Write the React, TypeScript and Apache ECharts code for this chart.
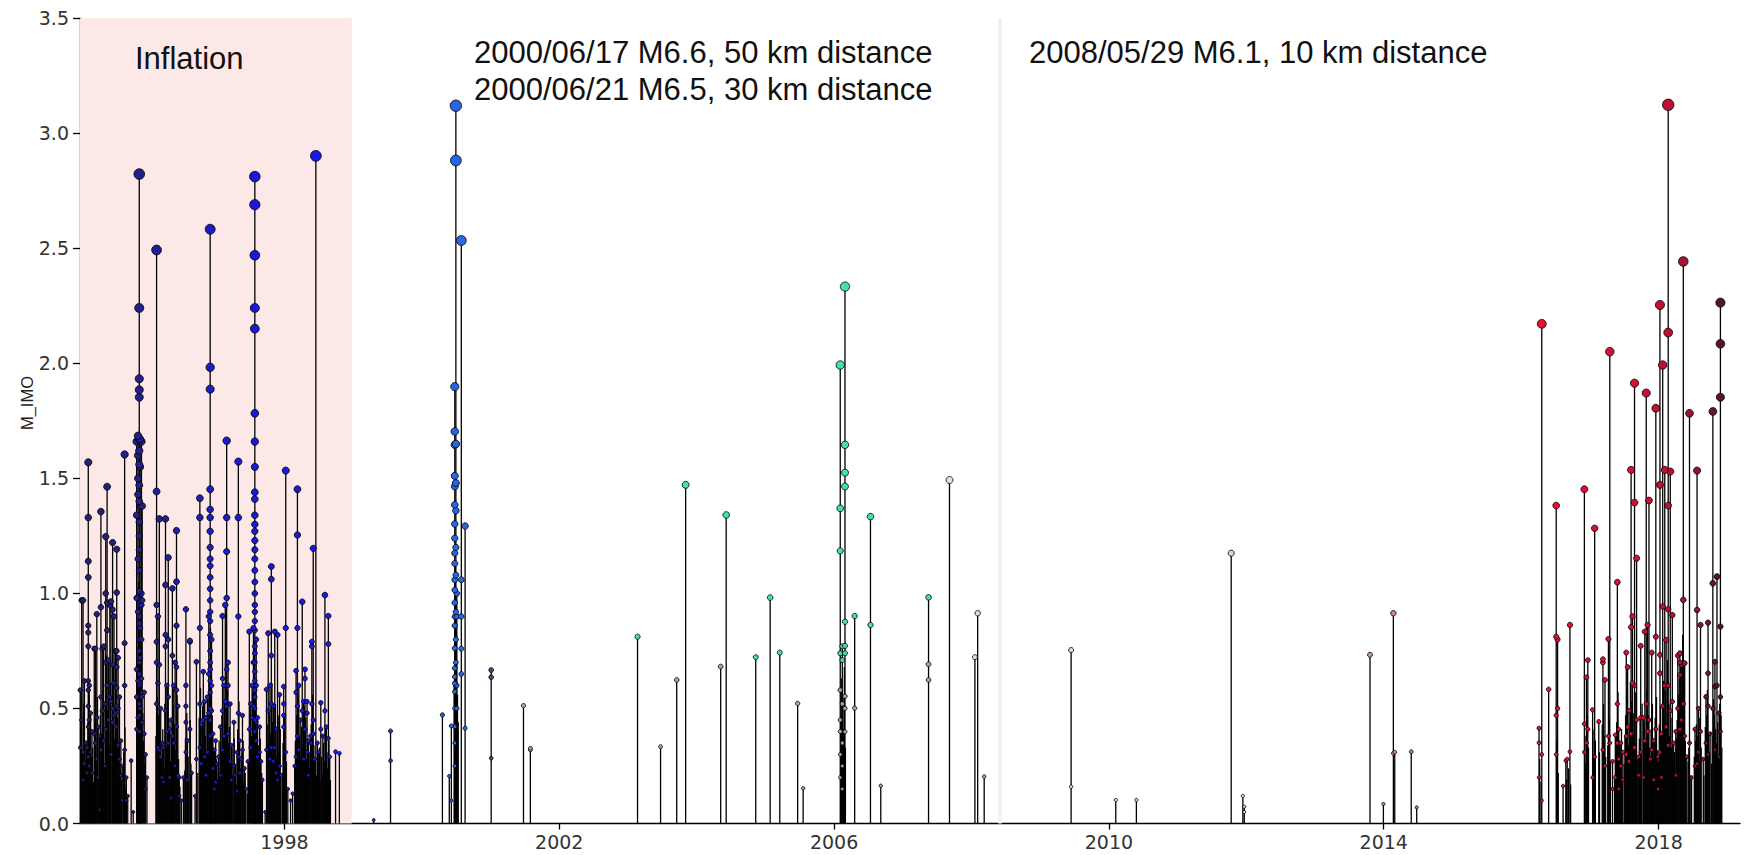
import React, { useEffect, useRef } from 'react';
import * as echarts from 'echarts';

// ---------- axis ranges / ticks ----------
const X_MIN = 1995.0255;
const X_MAX = 2019.185;
const Y_MIN = 0;
const Y_MAX = 3.5;
const Y_STEP = 0.5;
const yearTicks = [1998, 2002, 2006, 2010, 2014, 2018];
const yAxisTitle = 'M_IMO';

// shaded inflation period and marker line of 2008/05/29
const inflationStart = 1995.0255;
const inflationEnd = 1998.98;
const quake2008 = 2008.41;

// ---------- data: [decimal year, magnitudes at that time] ----------
type Cluster = [number, number[]];

const events1995: Cluster[] = [
  [1995.03, [0.58, 0.33]], [1995.05, [0.97, 0.45]], [1995.07, [0.97, 0.31, 0.19]], [1995.09, [0.62, 0.26]],
  [1995.11, [0.35]], [1995.13, [0.33, 0.22]],
  [1995.146, [1.57, 1.33, 1.14, 1.07, 0.86, 0.83, 0.77, 0.62, 0.58, 0.51, 0.42, 0.29]],
  [1995.16, [0.6, 0.45, 0.25]], [1995.18, [0.48, 0.31]], [1995.2, [0.4, 0.22]], [1995.233, [0.76, 0.39]],
  [1995.25, [0.76, 0.35]], [1995.27, [0.91, 0.46, 0.28]], [1995.29, [0.42, 0.2]], [1995.31, [0.38, 0.06]],
  [1995.33, [1.356, 0.94, 0.55, 0.32]], [1995.35, [0.76, 0.49]], [1995.37, [0.77, 0.36]], [1995.39, [0.52, 0.25]],
  [1995.4, [1.247, 1.0, 0.7, 0.41]], [1995.42, [1.464, 0.96, 0.84, 0.6]], [1995.44, [0.71, 0.45]],
  [1995.46, [0.95, 0.55]], [1995.476, [0.965, 0.53, 0.3]], [1995.5, [1.221, 0.93, 0.69, 0.5, 0.44]],
  [1995.52, [0.9, 0.61, 0.47]], [1995.54, [0.75, 0.48]], [1995.56, [1.192, 1.004, 0.75, 0.68, 0.59, 0.51, 0.42]],
  [1995.58, [0.72, 0.5, 0.34]], [1995.6, [0.55, 0.28]], [1995.62, [0.36, 0.21]], [1995.64, [0.25, 0.1]],
  [1995.675, [1.604, 0.784, 0.6, 0.32]], [1995.7, [0.2, 0.1]], [1995.72, [0.12]], [1995.77, [0.273]],
  [1995.8, [0.05]], [1995.85, [1.66, 1.34, 0.98, 0.67, 0.55, 0.41]],
  [1995.87, [1.685, 1.6, 1.5, 1.43, 1.15, 0.92, 0.62, 0.46]],
  [1995.888, [2.823, 2.241, 1.933, 1.885, 1.853, 1.67, 1.62, 1.56, 1.47, 1.4, 1.31, 1.25, 1.19, 1.1, 1.01, 0.95, 0.9, 0.87, 0.8, 0.75, 0.7, 0.65, 0.6, 0.52, 0.47, 0.4]],
  [1995.9, [1.67, 1.55, 1.38, 0.97, 0.85, 0.72, 0.61, 0.5]], [1995.92, [1.66, 1.0, 0.95, 0.8, 0.63, 0.55]],
  [1995.93, [1.38, 0.97, 0.57, 0.44]], [1995.96, [0.57, 0.39]], [1995.98, [0.3, 0.15]], [1996.0, [0.2]],
  [1996.14, [2.493, 1.443, 0.95, 0.79, 0.7, 0.52]], [1996.16, [0.9, 0.61, 0.33]], [1996.18, [1.324, 0.69, 0.32]],
  [1996.2, [0.5, 0.29]], [1996.22, [0.35, 0.2]], [1996.24, [0.33, 0.18]],
  [1996.27, [1.324, 1.037, 0.82, 0.77, 0.49]], [1996.29, [0.6, 0.4]], [1996.31, [1.156, 0.8, 0.55, 0.35]],
  [1996.33, [0.41, 0.2]], [1996.35, [0.45, 0.11]], [1996.37, [1.022, 0.73, 0.38]], [1996.39, [0.6, 0.35]],
  [1996.41, [0.7, 0.25]], [1996.43, [1.273, 1.051, 0.86, 0.68, 0.58, 0.42]], [1996.45, [0.51, 0.21]],
  [1996.47, [0.2, 0.12]], [1996.5, [0.1]], [1996.53, [0.2]], [1996.567, [0.931, 0.6, 0.51, 0.44, 0.31]],
  [1996.59, [0.36, 0.19]], [1996.625, [0.795, 0.79, 0.41]], [1996.65, [0.22]], [1996.7, [0.12]],
  [1996.72, [0.703, 0.28]], [1996.77, [1.414, 1.33, 0.85, 0.52, 0.33]], [1996.79, [0.43, 0.26]],
  [1996.82, [0.66, 0.45]], [1996.84, [0.53, 0.29]], [1996.86, [0.46, 0.21]], [1996.88, [0.55, 0.31]],
  [1996.9, [0.9, 0.65, 0.48]],
  [1996.92, [2.583, 1.983, 1.888, 1.453, 1.365, 1.33, 1.27, 1.2, 1.15, 1.12, 1.07, 1.02, 0.97, 0.92, 0.88, 0.82, 0.75, 0.7, 0.67, 0.62, 0.57, 0.5, 0.45, 0.38]],
  [1996.94, [0.8, 0.6, 0.49]], [1996.96, [0.39, 0.24]], [1996.98, [0.32, 0.15]], [1997.0, [0.36, 0.18]],
  [1997.02, [0.26]], [1997.04, [0.29]], [1997.07, [0.42, 0.21]], [1997.1, [0.902, 0.63, 0.49, 0.32]],
  [1997.12, [0.6, 0.38]], [1997.14, [0.95, 0.53]], [1997.16, [1.664, 1.33, 1.182, 0.98, 0.67, 0.51]],
  [1997.18, [0.7, 0.6, 0.39]], [1997.21, [0.52, 0.27]], [1997.23, [0.34, 0.19]], [1997.265, [0.44, 0.25]],
  [1997.28, [0.21]], [1997.31, [0.31, 0.14]], [1997.33, [1.573, 1.33, 0.9, 0.48, 0.29]], [1997.35, [0.36, 0.22]],
  [1997.37, [0.28]], [1997.39, [0.47, 0.32]], [1997.42, [0.24]], [1997.44, [0.15]], [1997.47, [0.27]],
  [1997.49, [0.834, 0.41]], [1997.51, [0.52, 0.33]], [1997.53, [0.6, 0.46]], [1997.55, [0.85, 0.7, 0.51]],
  [1997.57, [2.812, 2.69, 2.47, 2.241, 2.151, 1.783, 1.66, 1.55, 1.44, 1.41, 1.34, 1.3, 1.27, 1.23, 1.19, 1.15, 1.1, 1.05, 1.0, 0.95, 0.92, 0.88, 0.84, 0.77, 0.74, 0.7, 0.66, 0.62, 0.58, 0.55, 0.5, 0.45, 0.4]],
  [1997.59, [0.8, 0.6, 0.44, 0.36]], [1997.61, [0.46, 0.29]], [1997.64, [0.42, 0.31]], [1997.66, [0.27]],
  [1997.68, [0.19]], [1997.72, [0.05]], [1997.74, [0.583, 0.32]], [1997.765, [0.827, 0.49]], [1997.79, [0.6, 0.28]],
  [1997.81, [1.117, 1.062, 0.73, 0.52, 0.33]], [1997.84, [0.51, 0.27]], [1997.86, [0.834, 0.33]],
  [1997.88, [0.41, 0.22]], [1997.9, [0.82, 0.19]], [1997.93, [0.56, 0.25]], [1997.95, [0.21]],
  [1997.99, [0.595, 0.52, 0.47, 0.42]], [1998.02, [1.534, 0.85, 0.31]], [1998.05, [0.15]], [1998.09, [0.1]],
  [1998.12, [0.13]], [1998.15, [0.25]], [1998.17, [0.664, 0.57, 0.29]], [1998.19, [1.453, 1.254, 0.85, 0.51, 0.38]],
  [1998.21, [0.6, 0.32]], [1998.23, [0.45]], [1998.26, [0.964, 0.49]], [1998.28, [0.53, 0.28]],
  [1998.3, [0.67, 0.63, 0.41]], [1998.33, [0.53, 0.48, 0.31]], [1998.35, [0.36, 0.21]], [1998.38, [0.38, 0.35]],
  [1998.4, [0.79, 0.77, 0.52]], [1998.42, [1.196, 0.45, 0.39]], [1998.44, [0.28]], [1998.458, [2.902]],
  [1998.48, [0.35]], [1998.5, [0.31]], [1998.53, [0.525, 0.41]], [1998.56, [0.38]], [1998.59, [0.993, 0.49]],
  [1998.61, [0.42]], [1998.64, [0.902, 0.78, 0.37]], [1998.66, [0.29]], [1998.745, [0.312]], [1998.8, [0.305]],
];

// small events (stems only) that form the dense black base of the swarms
const minorYears1995 = [
  1995.04, 1995.06, 1995.08, 1995.1, 1995.12, 1995.14, 1995.15, 1995.17, 1995.19, 1995.21, 1995.22, 1995.24,
  1995.26, 1995.28, 1995.3, 1995.32, 1995.34, 1995.36, 1995.38, 1995.41, 1995.43, 1995.45, 1995.47, 1995.49,
  1995.51, 1995.53, 1995.55, 1995.57, 1995.59, 1995.61, 1995.63, 1995.66, 1995.68, 1995.69, 1995.86, 1995.875,
  1995.88, 1995.895, 1995.91, 1995.94, 1995.95, 1995.97, 1996.13, 1996.15, 1996.17, 1996.19, 1996.21, 1996.23,
  1996.25, 1996.26, 1996.28, 1996.3, 1996.32, 1996.34, 1996.36, 1996.38, 1996.4, 1996.42, 1996.44, 1996.46,
  1996.48, 1996.55, 1996.56, 1996.58, 1996.6, 1996.61, 1996.63, 1996.64, 1996.74, 1996.76, 1996.78, 1996.8,
  1996.81, 1996.83, 1996.85, 1996.87, 1996.89, 1996.91, 1996.925, 1996.93, 1996.95, 1996.97, 1996.99, 1997.01,
  1997.03, 1997.05, 1997.06, 1997.08, 1997.09, 1997.11, 1997.13, 1997.15, 1997.17, 1997.19, 1997.2, 1997.22,
  1997.24, 1997.25, 1997.27, 1997.29, 1997.3, 1997.32, 1997.34, 1997.36, 1997.38, 1997.4, 1997.41, 1997.43,
  1997.46, 1997.48, 1997.5, 1997.52, 1997.54, 1997.56, 1997.565, 1997.575, 1997.58, 1997.6, 1997.62, 1997.63,
  1997.65, 1997.67, 1997.75, 1997.76, 1997.78, 1997.8, 1997.82, 1997.83, 1997.85, 1997.87, 1997.89, 1997.91,
  1997.92, 1997.94, 1997.97, 1997.98, 1998.0, 1998.01, 1998.03, 1998.16, 1998.18, 1998.2, 1998.22, 1998.24,
  1998.25, 1998.27, 1998.29, 1998.31, 1998.32, 1998.34, 1998.36, 1998.37, 1998.39, 1998.41, 1998.43, 1998.45,
  1998.47, 1998.49, 1998.51, 1998.52, 1998.54, 1998.55, 1998.57, 1998.58, 1998.6, 1998.62, 1998.63, 1998.65,
  1998.67,
];
const minorMags1995 = [
  0.42, 0.31, 0.52, 0.27, 0.36, 0.44, 0.62, 0.38, 0.29, 0.33, 0.18, 0.46,
  0.27, 0.55, 0.21, 0.47, 0.39, 0.58, 0.26, 0.73, 0.49, 0.34, 0.61, 0.44,
  0.68, 0.37, 0.52, 0.46, 0.33, 0.24, 0.19, 0.31, 0.42, 0.15, 0.71, 0.88,
  1.05, 0.93, 0.77, 0.48, 0.36, 0.26, 0.38, 0.55, 0.47, 0.36, 0.29, 0.41,
  0.24, 0.52, 0.33, 0.61, 0.45, 0.27, 0.38, 0.51, 0.43, 0.32, 0.56, 0.28,
  0.16, 0.23, 0.37, 0.48, 0.29, 0.18, 0.45, 0.26, 0.22, 0.46, 0.59, 0.34,
  0.51, 0.27, 0.38, 0.31, 0.44, 0.62, 0.85, 0.72, 0.47, 0.33, 0.24, 0.28,
  0.19, 0.36, 0.22, 0.31, 0.47, 0.38, 0.52, 0.44, 0.58, 0.35, 0.42, 0.27,
  0.33, 0.21, 0.37, 0.26, 0.17, 0.41, 0.53, 0.24, 0.31, 0.36, 0.18, 0.22,
  0.13, 0.27, 0.46, 0.38, 0.57, 0.68, 0.79, 0.63, 0.52, 0.41, 0.34, 0.26,
  0.37, 0.22, 0.43, 0.35, 0.48, 0.39, 0.61, 0.44, 0.36, 0.52, 0.29, 0.47,
  0.33, 0.41, 0.22, 0.35, 0.48, 0.31, 0.27, 0.36, 0.47, 0.55, 0.38, 0.29,
  0.42, 0.33, 0.51, 0.46, 0.28, 0.37, 0.24, 0.31, 0.43, 0.56, 0.34, 0.27,
  0.21, 0.26, 0.33, 0.18, 0.29, 0.22, 0.35, 0.27, 0.41, 0.31, 0.24, 0.36,
  0.19,
];

const events2000: Cluster[] = [
  [1999.3, [0.015]], [1999.545, [0.402, 0.273]], [2000.3, [0.472]], [2000.4, [0.206]], [2000.43, [0.424, 0.1]],
  [2000.48, [1.899, 1.704, 1.646, 1.511, 1.465, 1.385, 1.302, 1.24, 1.175, 1.13, 1.059, 1.015, 0.96, 0.899, 0.86, 0.762, 0.675, 0.638, 0.609, 0.573, 0.5, 0.421, 0.35, 0.25]],
  [2000.496, [3.12, 2.882, 1.65, 1.48, 1.36, 1.2, 1.08, 0.92, 0.8, 0.7, 0.6]],
  [2000.51, [1.0, 0.9, 0.6, 0.5]], [2000.575, [2.534, 1.06, 0.9, 0.76, 0.65]], [2000.63, [1.293, 0.414]],
  [2001.01, [0.667, 0.636, 0.284]], [2001.48, [0.512]], [2001.58, [0.327, 0.32]],
];
const minorYears2000 = [2000.47, 2000.485, 2000.49, 2000.5, 2000.505, 2000.52, 2000.53];
const minorMags2000 = [0.62, 1.12, 0.95, 0.83, 0.71, 0.56, 0.44];

const events2003: Cluster[] = [
  [2003.14, [0.812]], [2003.475, [0.334]], [2003.71, [0.624]], [2003.84, [1.472]], [2004.35, [0.682]],
  [2004.43, [1.341]], [2004.86, [0.723]], [2005.07, [0.982]], [2005.21, [0.743]], [2005.47, [0.522]],
  [2005.55, [0.153]],
  [2006.09, [1.993, 1.37, 1.185, 0.74, 0.58, 0.45, 0.4, 0.3, 0.2]],
  [2006.12, [0.77, 0.71, 0.52, 0.35, 0.25, 0.15]],
  [2006.159, [2.334, 1.646, 1.525, 1.465, 0.877, 0.772, 0.74, 0.553, 0.5, 0.399]],
  [2006.3, [0.902, 0.501]], [2006.53, [1.334, 0.863]], [2006.68, [0.164]],
  [2007.375, [0.983, 0.692, 0.624]], [2007.68, [1.493]], [2008.05, [0.723]], [2008.09, [0.914]],
  [2008.185, [0.204]],
];
const minorYears2003 = [2006.1, 2006.105, 2006.11, 2006.13, 2006.14, 2006.15, 2006.165];
const minorMags2003 = [0.46, 0.63, 0.38, 0.55, 0.41, 0.68, 0.33];

const events2009: Cluster[] = [
  [2009.45, [0.754, 0.16]], [2010.1, [0.102]], [2010.4, [0.102]], [2011.78, [1.175]], [2011.95, [0.12]],
  [2011.97, [0.073, 0.05]], [2013.8, [0.733]], [2013.995, [0.085]], [2014.14, [0.914, 0.305]],
  [2014.16, [0.31]], [2014.4, [0.312]], [2014.48, [0.07]],
];

const events2016: Cluster[] = [
  [2016.26, [0.414, 0.351, 0.2]], [2016.3, [2.172, 0.3, 0.1]], [2016.4, [0.583]],
  [2016.51, [1.382, 0.812, 0.47, 0.3]], [2016.53, [0.8, 0.5]], [2016.61, [0.163]], [2016.65, [0.273]],
  [2016.67, [0.28]], [2016.71, [0.863, 0.312]], [2016.92, [1.453, 0.433, 0.31]], [2016.95, [0.636, 0.35]],
  [2016.97, [0.71, 0.41]], [2017.04, [0.494, 0.2]], [2017.07, [1.283, 0.29]], [2017.13, [0.443]],
  [2017.19, [0.714, 0.7, 0.32]], [2017.22, [0.624, 0.25]], [2017.27, [0.802, 0.38]], [2017.29, [2.051, 0.35]],
  [2017.33, [0.27, 0.15]], [2017.37, [0.385, 0.2]], [2017.4, [1.049, 0.52, 0.35]], [2017.42, [0.41, 0.28, 0.15]],
  [2017.45, [0.35, 0.25]], [2017.48, [0.31, 0.19]], [2017.53, [0.743, 0.38, 0.3]], [2017.55, [0.68, 0.42]],
  [2017.57, [0.49, 0.27]], [2017.6, [1.537, 0.853, 0.39]], [2017.62, [0.9, 0.61]],
  [2017.65, [1.914, 1.395, 0.6, 0.33]], [2017.68, [1.153, 0.45]], [2017.71, [0.29, 0.21]],
  [2017.74, [0.772, 0.46, 0.31]], [2017.78, [0.46, 0.2]], [2017.8, [0.834, 0.36]], [2017.82, [1.871, 0.52]],
  [2017.84, [0.863, 0.4]], [2017.86, [1.404, 0.45]], [2017.88, [0.28]], [2017.9, [0.743, 0.32]],
  [2017.93, [0.36, 0.19]], [2017.96, [1.805, 0.812, 0.41]], [2017.99, [0.29, 0.15]],
  [2018.02, [2.254, 1.472, 0.733, 0.653, 0.31]], [2018.04, [0.39, 0.2]], [2018.06, [1.993, 0.943, 0.51]],
  [2018.09, [1.537, 0.6]], [2018.11, [0.798, 0.42]], [2018.14, [3.124, 2.134, 1.382, 0.931, 0.6, 0.34]],
  [2018.17, [1.53, 0.49]], [2018.2, [0.906, 0.53]], [2018.22, [0.35]], [2018.25, [0.4, 0.21]],
  [2018.28, [0.73, 0.5]], [2018.31, [0.74, 0.7, 0.646, 0.41]], [2018.33, [0.69, 0.45]],
  [2018.36, [2.443, 0.972, 0.52]], [2018.38, [0.697, 0.38]], [2018.41, [0.29]], [2018.45, [1.783, 0.35]],
  [2018.48, [0.2]], [2018.53, [0.41, 0.25]], [2018.56, [1.534, 0.928, 0.26]], [2018.58, [0.5, 0.31]],
  [2018.61, [0.863, 0.4]], [2018.65, [0.28]], [2018.69, [0.551, 0.35]], [2018.72, [0.873, 0.653, 0.51, 0.3]],
  [2018.75, [0.39]], [2018.79, [1.791, 1.044, 0.5]], [2018.82, [0.703, 0.595, 0.32]], [2018.85, [1.073, 0.6]],
  [2018.88, [0.48, 0.29]], [2018.9, [2.264, 2.085, 1.853, 0.856, 0.55, 0.4]],
];
const minorYears2016 = [
  2016.27, 2016.29, 2016.52, 2016.54, 2016.66, 2016.69, 2016.72, 2016.93, 2016.94, 2016.96, 2016.98, 2017.05,
  2017.06, 2017.08, 2017.14, 2017.18, 2017.2, 2017.21, 2017.23, 2017.26, 2017.28, 2017.3, 2017.36, 2017.38,
  2017.39, 2017.41, 2017.43, 2017.44, 2017.46, 2017.47, 2017.5, 2017.51, 2017.52, 2017.54, 2017.56, 2017.58,
  2017.59, 2017.61, 2017.63, 2017.64, 2017.66, 2017.67, 2017.69, 2017.72, 2017.73, 2017.75, 2017.76, 2017.79,
  2017.81, 2017.83, 2017.85, 2017.87, 2017.89, 2017.91, 2017.92, 2017.94, 2017.95, 2017.97, 2017.98, 2018.0,
  2018.01, 2018.03, 2018.05, 2018.07, 2018.08, 2018.1, 2018.12, 2018.13, 2018.15, 2018.16, 2018.18, 2018.19,
  2018.21, 2018.23, 2018.24, 2018.26, 2018.27, 2018.29, 2018.3, 2018.32, 2018.34, 2018.35, 2018.37, 2018.39,
  2018.4, 2018.43, 2018.44, 2018.46, 2018.52, 2018.54, 2018.55, 2018.57, 2018.59, 2018.6, 2018.62, 2018.66,
  2018.68, 2018.7, 2018.71, 2018.73, 2018.74, 2018.77, 2018.78, 2018.8, 2018.81, 2018.83, 2018.84, 2018.86,
  2018.87, 2018.89, 2018.91, 2018.92,
];
const minorMags2016 = [
  0.28, 0.18, 0.36, 0.22, 0.19, 0.24, 0.17, 0.38, 0.26, 0.47, 0.33, 0.29,
  0.41, 0.36, 0.31, 0.43, 0.52, 0.38, 0.29, 0.34, 0.46, 0.27, 0.21, 0.33,
  0.44, 0.57, 0.36, 0.28, 0.41, 0.19, 0.26, 0.38, 0.47, 0.56, 0.34, 0.42,
  0.61, 0.53, 0.39, 0.48, 0.57, 0.34, 0.28, 0.37, 0.46, 0.31, 0.52, 0.44,
  0.36, 0.58, 0.47, 0.33, 0.41, 0.52, 0.28, 0.37, 0.46, 0.55, 0.32, 0.27,
  0.43, 0.51, 0.36, 0.62, 0.47, 0.58, 0.44, 0.71, 0.52, 0.38, 0.46, 0.33,
  0.27, 0.31, 0.22, 0.37, 0.45, 0.56, 0.63, 0.68, 0.57, 0.82, 0.61, 0.36,
  0.24, 0.27, 0.33, 0.21, 0.29, 0.36, 0.43, 0.38, 0.27, 0.46, 0.33, 0.21,
  0.42, 0.47, 0.58, 0.39, 0.31, 0.26, 0.38, 0.54, 0.47, 0.41, 0.35, 0.44,
  0.29, 0.52, 0.47, 0.33,
];

const annotationTexts = [
  { text: 'Inflation', x: 135, y: 58 },
  { text: '2000/06/17 M6.6, 50 km distance', x: 474, y: 52 },
  { text: '2000/06/21 M6.5, 30 km distance', x: 474, y: 89 },
  { text: '2008/05/29 M6.1, 10 km distance', x: 1029, y: 52 },
];

// ---------- colour scale over time ----------
const colorStops: [number, string][] = [
  [1995.0, '#24216c'],
  [1996.0, '#22208c'],
  [1997.0, '#1c1cc4'],
  [1998.5, '#1818ea'],
  [2000.0, '#1f50e8'],
  [2000.6, '#2a6ae2'],
  [2001.0, '#3a5070'],
  [2001.6, '#4a6070'],
  [2002.8, '#40e0b0'],
  [2007.45, '#48dcb0'],
  [2007.6, '#e2e2e2'],
  [2012.0, '#d8d0d0'],
  [2014.2, '#c48890'],
  [2016.2, '#ea1030'],
  [2017.5, '#d81038'],
  [2018.2, '#b81034'],
  [2018.6, '#8a1430'],
  [2019.0, '#4a1422'],
];

function hexToRgb(h: string): number[] {
  return [1, 3, 5].map((i) => parseInt(h.slice(i, i + 2), 16));
}

function timeColor(year: number): string {
  if (year <= colorStops[0][0]) return colorStops[0][1];
  for (let i = 1; i < colorStops.length; i++) {
    const [y1, c1] = colorStops[i];
    if (year <= y1) {
      const [y0, c0] = colorStops[i - 1];
      const t = (year - y0) / (y1 - y0);
      const a = hexToRgb(c0);
      const b = hexToRgb(c1);
      const m = a.map((v, k) => Math.round(v + (b[k] - v) * t));
      return `rgb(${m[0]},${m[1]},${m[2]})`;
    }
  }
  return colorStops[colorStops.length - 1][1];
}

function markerColor(year: number, mag: number): string {
  if (year > 2001.3 && year < 2009 && mag < 0.7) return '#a4a4a4';
  return timeColor(year);
}

const allClusters: Cluster[] = [...events1995, ...events2000, ...events2003, ...events2009, ...events2016];
const minorYears = [...minorYears1995, ...minorYears2000, ...minorYears2003, ...minorYears2016];
const minorMags = [...minorMags1995, ...minorMags2000, ...minorMags2003, ...minorMags2016];

export default function App() {
  const ref = useRef<HTMLDivElement>(null);

  useEffect(() => {
    if (!ref.current) return;
    const chart = echarts.init(ref.current, undefined, { renderer: 'svg' });

    const stemData: number[][] = allClusters.map(([yr, mags]) => [yr, Math.max(...mags)]);
    minorYears.forEach((yr, i) => stemData.push([yr, minorMags[i]]));

    const points: number[][] = [];
    allClusters.forEach(([yr, mags]) => {
      mags.forEach((m) => points.push([yr, m]));
    });
    points.sort((a, b) => a[1] - b[1]);
    const pointData = points.map(([yr, m]) => ({
      value: [yr, m],
      itemStyle: { color: markerColor(yr, m) },
    }));

    const annoFont = 'Liberation Sans, Arial, sans-serif';

    chart.setOption({
      animation: false,
      backgroundColor: '#ffffff',
      grid: { left: 80, right: 12, top: 18.3, bottom: 31.5, containLabel: false, outerBoundsMode: 'none' },
      xAxis: {
        type: 'value',
        min: X_MIN,
        max: X_MAX,
        splitLine: { show: false },
        axisLine: { show: true, onZero: true, lineStyle: { color: '#000', width: 1.3 } },
        axisTick: { show: true, customValues: yearTicks, length: 6, lineStyle: { color: '#000', width: 1.3 } },
        axisLabel: {
          customValues: yearTicks,
          formatter: (v: number) => String(Math.round(v)),
          fontFamily: 'DejaVu Sans',
          fontSize: 19,
          color: '#333',
          margin: 9,
        },
      },
      yAxis: {
        type: 'value',
        min: Y_MIN,
        max: Y_MAX,
        interval: Y_STEP,
        splitLine: { show: false },
        axisLine: { show: true, lineStyle: { color: '#000', width: 1.3 } },
        axisTick: { show: true, length: 7, lineStyle: { color: '#000', width: 1.3 } },
        axisLabel: {
          formatter: (v: number) => v.toFixed(1),
          fontFamily: 'DejaVu Sans',
          fontSize: 19,
          color: '#333',
          margin: 11,
        },
      },
      graphic: [
        ...annotationTexts.map((a) => ({
          type: 'text',
          x: a.x,
          y: a.y,
          z: 100,
          style: { text: a.text, font: `31px ${annoFont}`, fill: '#111', align: 'left', verticalAlign: 'middle' },
        })),
        {
          type: 'text',
          x: 27,
          y: 403,
          rotation: Math.PI / 2,
          z: 100,
          style: { text: yAxisTitle, font: `16.5px ${annoFont}`, fill: '#222', align: 'center', verticalAlign: 'middle' },
        },
      ],
      series: [
        {
          type: 'line',
          data: [],
          z: 1,
          silent: true,
          markArea: {
            silent: true,
            itemStyle: { color: '#fde8e8' },
            data: [[{ xAxis: inflationStart, yAxis: Y_MIN }, { xAxis: inflationEnd, yAxis: Y_MAX }]],
          },
          markLine: {
            silent: true,
            symbol: ['none', 'none'],
            label: { show: false },
            lineStyle: { color: '#f2f2f2', width: 4, type: 'solid' },
            data: [{ xAxis: quake2008 }],
          },
        },
        {
          type: 'custom',
          z: 2,
          silent: true,
          encode: { x: 0, y: 1 },
          data: stemData,
          renderItem: (params: any, api: any) => {
            const x = api.value(0);
            const m = api.value(1);
            const p0 = api.coord([x, 0]);
            const p1 = api.coord([x, m]);
            return {
              type: 'line',
              shape: { x1: p0[0], y1: p0[1], x2: p1[0], y2: p1[1] },
              style: { stroke: '#000', lineWidth: 1.3 },
            };
          },
        },
        {
          type: 'scatter',
          z: 3,
          silent: true,
          data: pointData,
          symbol: 'circle',
          symbolSize: (v: number[]) => 3 + 2.7 * v[1],
          itemStyle: { borderColor: '#000', borderWidth: 0.8, opacity: 1 },
        },
      ],
    });

    return () => chart.dispose();
  }, []);

  return (
    <div
      ref={ref}
      style={{ position: 'absolute', left: 0, top: 0, width: 1752, height: 855, background: '#fff' }}
    />
  );
}
